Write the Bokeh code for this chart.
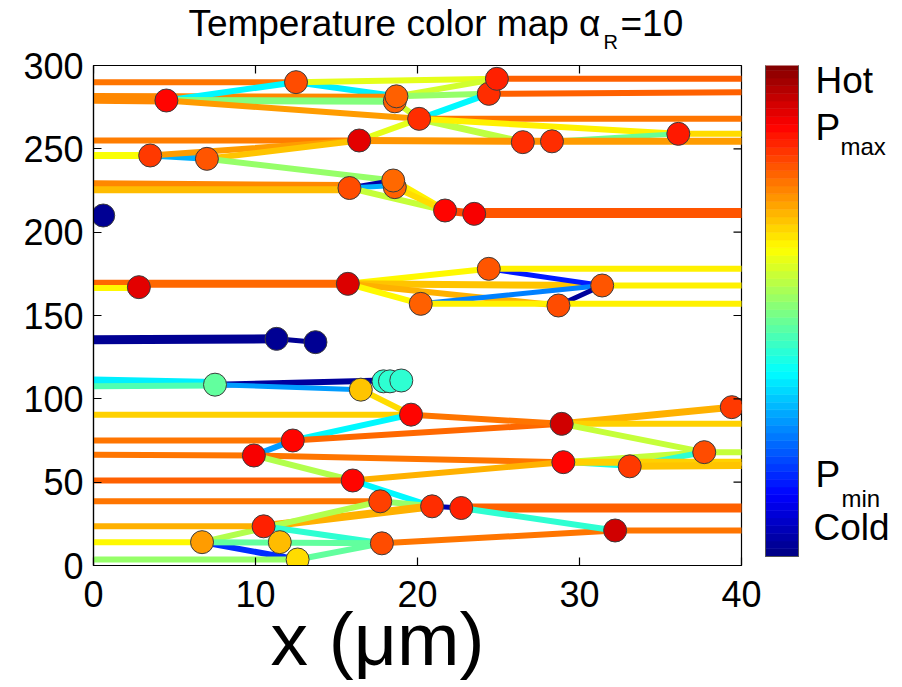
import numpy as np
from bokeh.plotting import figure
from bokeh.models import ColumnDataSource, LinearColorMapper, Range1d, FixedTicker
from bokeh.transform import transform
from bokeh.layouts import row, column
from bokeh.embed import file_html
from bokeh.resources import INLINE
from bokeh.core.properties import value

# ---------------- data ----------------
x_ticks = [0, 10, 20, 30, 40]
y_ticks = [0, 50, 100, 150, 200, 250, 300]

# points (x in um, y, temperature value 0..1)
pt_x = [12.5, 4.5, 18.6, 18.7, 24.4, 24.9, 20.1, 16.4, 26.5, 28.3, 36.1, 3.5, 7.0,
        15.8, 18.6, 18.5, 21.7, 23.5, 0.6, 2.8, 15.7, 24.4, 31.4, 20.2, 28.7,
        11.3, 13.7, 7.5, 16.5, 17.9, 18.3, 19.0, 19.6, 12.3, 9.9, 28.9, 39.4,
        37.7, 29.0, 33.1, 16.0, 17.7, 20.9, 22.7, 10.5, 32.2, 6.7, 11.5, 12.6, 17.8]
pt_y = [290, 279, 278.5, 281.5, 283, 292, 268, 255, 254, 254.5, 259, 246, 244,
        226.5, 227, 231, 213, 211, 210, 167, 169, 178, 168, 157, 156,
        136, 134, 108.5, 105.5, 110.5, 110.5, 111, 90.5, 75, 66, 85, 95,
        68, 62, 59.5, 51, 38.5, 35.5, 34.5, 23.5, 21, 14, 14, 3.6, 13.3]
pt_t = [0.80, 0.87, 0.78, 0.78, 0.83, 0.84, 0.83, 0.90, 0.83, 0.83, 0.85, 0.82, 0.79,
        0.80, 0.78, 0.77, 0.87, 0.88, 0.02, 0.90, 0.91, 0.79, 0.79, 0.78, 0.80,
        0.02, 0.02, 0.47, 0.68, 0.42, 0.42, 0.42, 0.87, 0.87, 0.88, 0.92, 0.82,
        0.80, 0.87, 0.82, 0.87, 0.81, 0.83, 0.84, 0.84, 0.92, 0.72, 0.69, 0.66, 0.80]

# path segments (x0, y0, x1, y1, temperature value, width)
segments = [
    (0, 290, 12.5, 290, 0.76, 6),
    (12.5, 290, 18.7, 281.5, 0.36, 6),
    (12.5, 290, 24.9, 292, 0.60, 6),
    (0, 279.5, 4.5, 279, 0.74, 8),
    (0, 282, 18.7, 281.5, 0.74, 5),
    (4.5, 279, 12.5, 290, 0.37, 6),
    (4.5, 279, 18.6, 278.5, 0.50, 7),
    (4.5, 279, 20.1, 268, 0.72, 6),
    (18.7, 281.5, 24.9, 292, 0.58, 6),
    (18.7, 281.5, 24.4, 283, 0.52, 6),
    (18.6, 278.5, 20.1, 268, 0.58, 6),
    (20.1, 268, 24.4, 283, 0.37, 6),
    (20.1, 268, 16.4, 255, 0.60, 6),
    (20.1, 268, 26.5, 254, 0.56, 7),
    (20.1, 268, 40, 268, 0.76, 6),
    (20.1, 268, 36.1, 259, 0.64, 6),
    (36.1, 259, 40, 259, 0.66, 6),
    (28.3, 254.5, 36.1, 259, 0.48, 5),
    (24.9, 292, 40, 292, 0.78, 6),
    (24.4, 283, 40, 284, 0.78, 6),
    (0, 255, 16.4, 255, 0.75, 6),
    (16.4, 255, 28.3, 254.5, 0.73, 7),
    (28.3, 254.5, 40, 254.5, 0.72, 7),
    (0, 246, 3.5, 246, 0.62, 7),
    (3.5, 246, 7.0, 244, 0.30, 6),
    (3.5, 246, 16.4, 255, 0.72, 6),
    (7.0, 244, 16.4, 255, 0.68, 6),
    (7.0, 244, 18.5, 231, 0.52, 6),
    (0, 229, 15.8, 228, 0.74, 7),
    (0, 225.5, 15.8, 225.5, 0.69, 7),
    (15.8, 226.5, 18.5, 231, 0.04, 5),
    (15.8, 226.5, 18.6, 228, 0.30, 5),
    (15.8, 226.5, 21.7, 213, 0.57, 6),
    (18.5, 231, 21.7, 213, 0.64, 7),
    (18.6, 227, 21.7, 213, 0.66, 6),
    (21.7, 213, 23.5, 211, 0.80, 8),
    (23.5, 211.5, 40, 211.5, 0.79, 10),
    (0, 169, 15.7, 169, 0.77, 8),
    (0, 166.5, 2.8, 166.5, 0.63, 6),
    (15.7, 169, 24.4, 178, 0.63, 6),
    (15.7, 169, 31.4, 168, 0.68, 7),
    (15.7, 169, 28.7, 156, 0.70, 6),
    (15.7, 169, 20.2, 157, 0.63, 6),
    (24.4, 178, 31.4, 168, 0.15, 5),
    (20.2, 157, 31.4, 168, 0.25, 5),
    (28.7, 156, 31.4, 168, 0.03, 5),
    (24.4, 178, 40, 178, 0.64, 6),
    (31.4, 168, 40, 168, 0.64, 6),
    (20.2, 157, 40, 157, 0.64, 6),
    (0, 135.5, 11.3, 136, 0.02, 9),
    (11.3, 136, 13.7, 134, 0.02, 5),
    (0, 111, 7.5, 109.5, 0.36, 8),
    (0, 107.5, 7.5, 108, 0.45, 6),
    (7.5, 108.5, 17.9, 111, 0.03, 6),
    (7.5, 108.5, 16.5, 105.5, 0.28, 5),
    (16.5, 105.5, 19.6, 90.5, 0.66, 6),
    (0, 90.5, 19.6, 90.5, 0.67, 6),
    (19.6, 90.5, 12.3, 75, 0.37, 6),
    (0, 75, 12.3, 75, 0.76, 6),
    (12.3, 75, 28.9, 85, 0.77, 6),
    (9.9, 66, 12.3, 75, 0.28, 6),
    (0, 66.5, 9.9, 66, 0.76, 6),
    (9.9, 66, 29.0, 62, 0.76, 6),
    (9.9, 66, 16.0, 51, 0.55, 6),
    (0, 51, 16.0, 51, 0.78, 6),
    (16.0, 51, 29.0, 62, 0.70, 6),
    (19.6, 90.5, 28.9, 85, 0.76, 6),
    (28.9, 85, 39.4, 95, 0.70, 7),
    (28.9, 85, 40, 85, 0.67, 6),
    (28.9, 85, 37.7, 68, 0.57, 6),
    (29.0, 62, 33.1, 59.5, 0.40, 5),
    (29.0, 62, 37.7, 68, 0.57, 6),
    (33.1, 59.5, 37.7, 68, 0.42, 6),
    (29.0, 62, 40, 62, 0.67, 7),
    (33.1, 59.5, 40, 60, 0.68, 7),
    (37.7, 68, 40, 68, 0.57, 6),
    (16.0, 51, 20.9, 35.5, 0.37, 6),
    (0, 38.5, 17.7, 38.5, 0.76, 6),
    (17.7, 38.5, 20.9, 35.5, 0.52, 6),
    (10.5, 23.5, 20.9, 35.5, 0.70, 8),
    (6.7, 14, 17.7, 38.5, 0.55, 6),
    (0, 23.5, 10.5, 23.5, 0.70, 6),
    (10.5, 23.5, 17.8, 13.3, 0.42, 6),
    (0, 14, 6.7, 14, 0.63, 6),
    (6.7, 14, 12.6, 3.6, 0.17, 6),
    (6.7, 14, 17.8, 13.3, 0.47, 6),
    (12.6, 3.6, 17.8, 13.3, 0.47, 6),
    (0, 3.6, 12.6, 3.6, 0.52, 6),
    (17.8, 13.3, 32.2, 21, 0.76, 6),
    (20.9, 35.5, 22.7, 34.5, 0.05, 5),
    (22.7, 34.5, 40, 34.5, 0.78, 9),
    (22.7, 34.5, 32.2, 21, 0.42, 6),
    (32.2, 21, 40, 21, 0.76, 6),
    (39.4, 95, 40, 95, 0.72, 6),
]

title_parts = ["Temperature color map \u03b1", "R", "=10"]
x_label = "x (\u03bcm)"
cbar_labels = ["Hot", "P", "P", "Cold"]
cbar_label_pos = [0.964, 0.869, 0.165, 0.059]
cbar_sub = ["max", "min"]
cbar_sub_pos = [0.830, 0.117]

# ---------------- jet colormap ----------------
def jet_hex(n):
    t = np.linspace(0, 1, n)
    r = np.clip(1.5 - np.abs(4 * t - 3), 0, 1)
    g = np.clip(1.5 - np.abs(4 * t - 2), 0, 1)
    b = np.clip(1.5 - np.abs(4 * t - 1), 0, 1)
    return ["#%02x%02x%02x" % (int(round(a * 255)), int(round(c * 255)), int(round(d * 255)))
            for a, c, d in zip(r, g, b)]

mapper = LinearColorMapper(palette=jet_hex(256), low=0, high=1)
FONT = "Liberation Sans"


def text_fig(w, h):
    f = figure(width=w, height=h, x_range=Range1d(0, w), y_range=Range1d(0, h),
               output_backend="svg", toolbar_location=None, x_axis_location=None,
               y_axis_location=None, min_border=0)
    f.grid.visible = False
    f.outline_line_color = None
    f.border_fill_color = None
    f.background_fill_color = None
    return f

# ---------------- title ----------------
tf = text_fig(900, 60)
tf.text(x=[600], y=[37.5], text=[title_parts[0]], text_font=value(FONT), text_font_size="37px",
        text_align="right", text_baseline="alphabetic", text_color="black")
tf.text(x=[603], y=[18.5], text=[title_parts[1]], text_font=value(FONT), text_font_size="20px",
        text_align="left", text_baseline="alphabetic", text_color="black")
tf.text(x=[620], y=[37.5], text=[title_parts[2]], text_font=value(FONT), text_font_size="37px",
        text_align="left", text_baseline="alphabetic", text_color="black")

# ---------------- main plot ----------------
p = figure(width=762, height=600, x_range=Range1d(0, 40), y_range=Range1d(0, 300),
           output_backend="svg", toolbar_location=None,
           min_border_left=93, min_border_right=21, min_border_top=30, min_border_bottom=70)
p.grid.visible = False
p.outline_line_color = "black"
p.outline_line_width = 1.2
p.background_fill_color = "white"
p.border_fill_color = None

for ax, ticks in ((p.xaxis, x_ticks), (p.yaxis, y_ticks)):
    ax.ticker = FixedTicker(ticks=ticks)
    ax.major_tick_in = 8
    ax.major_tick_out = 0
    ax.minor_tick_line_color = None
    ax.axis_line_color = "black"
    ax.axis_line_width = 1.2
    ax.major_tick_line_width = 1.2
    ax.major_label_text_font = FONT
    ax.major_label_text_font_size = "36px"
    ax.major_label_text_color = "black"
p.yaxis.major_label_standoff = 10
p.xaxis.major_label_standoff = 15

seg_src = ColumnDataSource(dict(
    x0=[s[0] for s in segments], y0=[s[1] for s in segments],
    x1=[s[2] for s in segments], y1=[s[3] for s in segments],
    t=[s[4] for s in segments], w=[s[5] for s in segments]))
p.segment(x0="x0", y0="y0", x1="x1", y1="y1", line_color=transform("t", mapper),
          line_width="w", line_cap="round", source=seg_src)

pt_src = ColumnDataSource(dict(x=pt_x, y=pt_y, t=pt_t))
p.scatter("x", "y", size=23, fill_color=transform("t", mapper), line_color="#3c3c3c",
          line_width=1, source=pt_src)

# box ticks on the top and right edges (8 px long, inward)
tick_dy = 8 * 300 / 500.0
tick_dx = 8 * 40 / 648.0
p.segment(x0=x_ticks, y0=[300] * len(x_ticks), x1=x_ticks, y1=[300 - tick_dy] * len(x_ticks),
          line_color="black", line_width=1.2)
p.segment(x0=[40] * len(y_ticks), y0=y_ticks, x1=[40 - tick_dx] * len(y_ticks), y1=y_ticks,
          line_color="black", line_width=1.2)

# ---------------- colour bar (its frame is aligned with the main frame by the row) ----------------
cb = figure(width=138, height=600, x_range=Range1d(0, 138), y_range=Range1d(-9 / 494.0, 1 - 3 / 494.0),
            output_backend="svg", toolbar_location=None, x_axis_location=None,
            y_axis_location=None, min_border_left=0, min_border_right=0,
            min_border_top=30, min_border_bottom=70)
cb.grid.visible = False
cb.outline_line_color = None
cb.border_fill_color = None
cb.background_fill_color = None
levels = np.linspace(0, 1, 65)
band_src = ColumnDataSource(dict(bottom=levels[:-1], top=levels[1:],
                                 mid=(levels[:-1] + levels[1:]) / 2))
cb.quad(left=3, right=36, bottom="bottom", top="top", fill_color=transform("mid", mapper),
        line_color=transform("mid", mapper), line_width=0.6, source=band_src)
cb.quad(left=3, right=36, bottom=0, top=1, fill_color=None, line_color="#555555", line_width=1)

cb.text(x=[53, 53, 53, 51], y=cbar_label_pos, text=cbar_labels, text_font=value(FONT),
        text_font_size="37px", text_baseline="alphabetic", text_color="black")
cb.text(x=[78, 79], y=cbar_sub_pos, text=cbar_sub, text_font=value(FONT),
        text_font_size="24px", text_baseline="alphabetic", text_color="black")

main_row = row(p, cb)
main_row.margin = (-25, 0, 0, 0)

# ---------------- x label (transparent, overlaps the empty lower border of the main row) ----------------
xf = text_fig(900, 96)
xf.text(x=[377], y=[48], text=[x_label], text_font=value(FONT), text_font_size="75px",
        text_align="center", text_baseline="alphabetic", text_color="black")
xf.margin = (-45, 0, 0, 0)

layout = column(tf, main_row, xf)
open("out.html", "w").write(file_html(layout, INLINE))
